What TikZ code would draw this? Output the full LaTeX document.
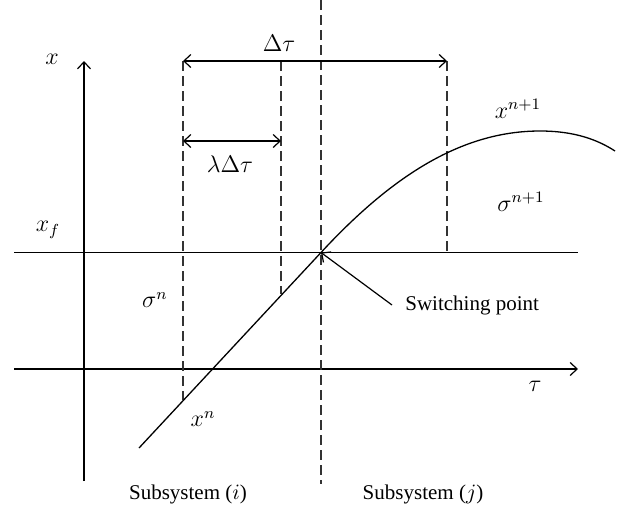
\documentclass[tikz,border=0pt]{standalone}
\usepackage{fontspec}
\setmainfont{Liberation Serif}
\usetikzlibrary{arrows.meta}

\begin{document}
\begin{tikzpicture}[
  x=0.5pt, y=-0.5pt,
  font=\fontsize{10.5}{12}\selectfont,
  axis/.style={line width=0.65pt},
  guide/.style={line width=0.6pt, dash pattern=on 5pt off 2.5pt, black!80},
  dim/.style={line width=0.6pt, {Straight Barb[length=3.5pt,width=6.5pt]}-{Straight Barb[length=3.5pt,width=6.5pt]}},
  arr/.style={line width=0.6pt, -{Straight Barb[length=3.5pt,width=6.5pt]}},
  lbl/.style={inner sep=0pt, font=\fontsize{11.5}{13}\selectfont}
]
\useasboundingbox (0,0) rectangle (621,509);
% axes and reference lines
\coordinate (origin) at (84,481);
\coordinate (xtop) at (84,61);
\coordinate (tleft) at (14,369);
\coordinate (tright) at (578,369);
\coordinate (fleft) at (14,252.5);
\coordinate (fright) at (578,252.5);
\coordinate (sw) at (321,252.5);
\draw[axis, arr] (origin) -- (xtop);
\draw[axis, arr] (tleft) -- (tright);
\draw[axis] (fleft) -- (fright);
% dashed guides
\coordinate (mtop) at (321,0);
\coordinate (mbot) at (321,484);
\coordinate (atop) at (183,61);
\coordinate (abot) at (183,400);
\coordinate (btop) at (281,61);
\coordinate (bbot) at (281,294);
\coordinate (ctop) at (447,61);
\coordinate (cbot) at (447,252.5);
\draw[guide] (mtop) -- (mbot);
\draw[guide] (atop) -- (abot);
\draw[guide] (btop) -- (bbot);
\draw[guide] (ctop) -- (cbot);
% step widths
\coordinate (lam) at (281,141);
\coordinate (lamstart) at (183,141);
\draw[dim] (atop) -- (ctop);
\draw[dim] (lamstart) -- (lam);
% trajectory
\coordinate (start) at (139,448);
\coordinate (peak) at (540,131);
\coordinate (stop) at (615,151);
\draw[line width=0.65pt] (start) -- (sw)
  .. controls (390,178) and (460,131) .. (peak)
  .. controls (575,131) and (598,140) .. (stop);
% labels
\node[lbl] (xlab) at (52,59) {$x$};
\node[lbl] (xflab) at (48,230) {$x_f$};
\node[lbl] (dtlab) at (279,43) {$\Delta\tau$};
\node[lbl] (ldtlab) at (230,164) {$\lambda\Delta\tau$};
\node[lbl] (snlab) at (155,300) {$\sigma^n$};
\node[lbl] (xnlab) at (203,419) {$x^n$};
\node[lbl] (xn1lab) at (518,109) {$x^{n+1}$};
\node[lbl] (sn1lab) at (521,202) {$\sigma^{n+1}$};
\node[lbl] (taulab) at (535,386) {$\tau$};
\node[inner sep=0pt, anchor=west] (swlab) at (405,305) {Switching point};
\node[inner sep=0pt] (subi) at (188,494) {Subsystem ($i$)};
\node[inner sep=0pt] (subj) at (423,494) {Subsystem ($j$)};
\coordinate (swtail) at (392,305);
\draw[arr] (swtail) -- (sw);
\end{tikzpicture}
\end{document}
